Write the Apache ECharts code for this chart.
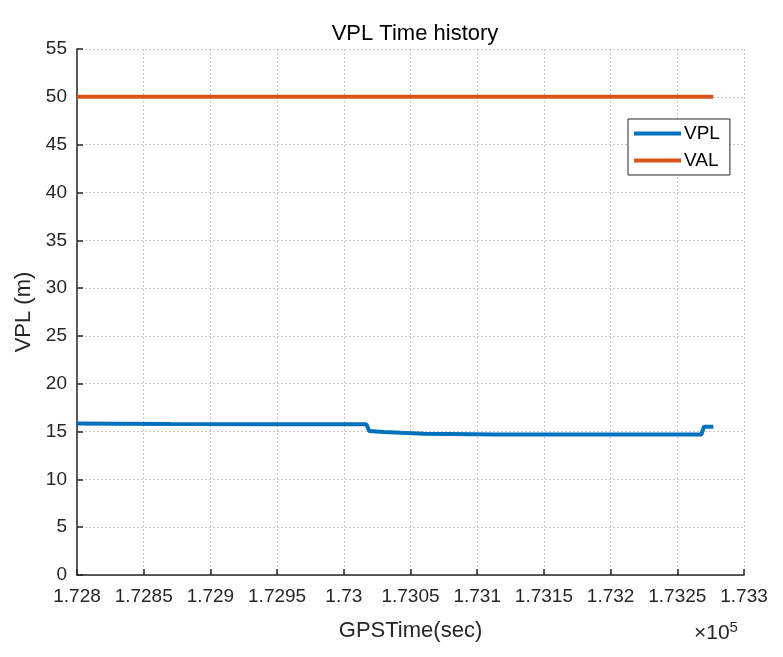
<!DOCTYPE html>
<html><head><meta charset="utf-8">
<script src="https://cdn.jsdelivr.net/npm/echarts@6/dist/echarts.min.js"></script>
<style>html,body{margin:0;padding:0;background:#fff}#c{width:783px;height:657px}</style>
</head><body><div id="c"></div>
<script>
// GPS time in seconds, VPL in metres
const vplTime = [172800, 172830, 172870, 172950, 173017, 173019, 173030, 173060, 173115, 173200, 173268, 173270, 173277];
const vplValue = [15.85, 15.82, 15.78, 15.76, 15.75, 15.05, 14.95, 14.78, 14.70, 14.68, 14.68, 15.5, 15.5];
const valTime = [172800, 173277];
const valValue = [50, 50];
const xTicks = [172800, 173300, 50];
const yTicks = [0, 55, 5];

const FONT = '"Liberation Sans", Arial, sans-serif';
const chart = echarts.init(document.getElementById('c'));
const gridLine = {show: true, lineStyle: {color: '#c8c8c8', type: [2, 2], width: 1}};
chart.setOption({
  animation: false,
  textStyle: {fontFamily: FONT},
  title: {text: 'VPL Time history', left: 410, top: 18, textAlign: 'center',
    textStyle: {fontFamily: FONT, fontSize: 22, fontWeight: 'normal', color: '#000'}},
  grid: {left: 77, right: 39, top: 49, bottom: 82, containLabel: false},
  legend: {
    orient: 'vertical', left: 628, top: 119, width: 99,
    borderColor: '#262626', borderWidth: 1, backgroundColor: '#fff',
    padding: [5, 10, 5, 6], itemGap: 8, itemWidth: 47, itemHeight: 4,
    icon: 'rect',
    textStyle: {fontFamily: FONT, fontSize: 19, color: '#000', padding: [0, 0, 0, -2]},
    data: ['VPL', 'VAL']
  },
  xAxis: {
    type: 'value', min: xTicks[0], max: xTicks[1], interval: xTicks[2],
    name: 'GPSTime(sec)', nameLocation: 'middle', nameGap: 45,
    nameTextStyle: {fontFamily: FONT, fontSize: 22, color: '#262626'},
    axisLine: {show: true, lineStyle: {color: '#262626', width: 1.5}},
    axisTick: {show: true, inside: true, length: 6, lineStyle: {color: '#262626', width: 1.5}},
    axisLabel: {fontFamily: FONT, fontSize: 19, color: '#262626', margin: 12,
      formatter: v => String(Number((v / 1e5).toFixed(5)))},
    splitLine: gridLine
  },
  yAxis: {
    type: 'value', min: yTicks[0], max: yTicks[1], interval: yTicks[2],
    name: 'VPL (m)', nameLocation: 'middle', nameGap: 36,
    nameTextStyle: {fontFamily: FONT, fontSize: 22, color: '#262626'},
    axisLine: {show: true, lineStyle: {color: '#262626', width: 1.5}},
    axisTick: {show: true, inside: true, length: 6, lineStyle: {color: '#262626', width: 1.5}},
    axisLabel: {fontFamily: FONT, fontSize: 19, color: '#262626', margin: 10},
    splitLine: gridLine
  },
  graphic: [{
    type: 'text', left: 694, top: 620,
    style: {text: '×10{s|5}', fontFamily: FONT, fontSize: 21, fill: '#262626',
      rich: {s: {fontSize: 15, verticalAlign: 'top', padding: [0, 0, 12, 0], fontFamily: FONT, fill: '#262626'}}}
  }],
  series: [
    {name: 'VPL', type: 'line', showSymbol: false, symbol: 'none', z: 3,
      data: vplTime.map((t, i) => [t, vplValue[i]]),
      lineStyle: {color: '#0072bd', width: 4}, itemStyle: {color: '#0072bd'}},
    {name: 'VAL', type: 'line', showSymbol: false, symbol: 'none', z: 3,
      data: valTime.map((t, i) => [t, valValue[i]]),
      lineStyle: {color: '#d95319', width: 4}, itemStyle: {color: '#d95319'}}
  ]
});
</script></body></html>
